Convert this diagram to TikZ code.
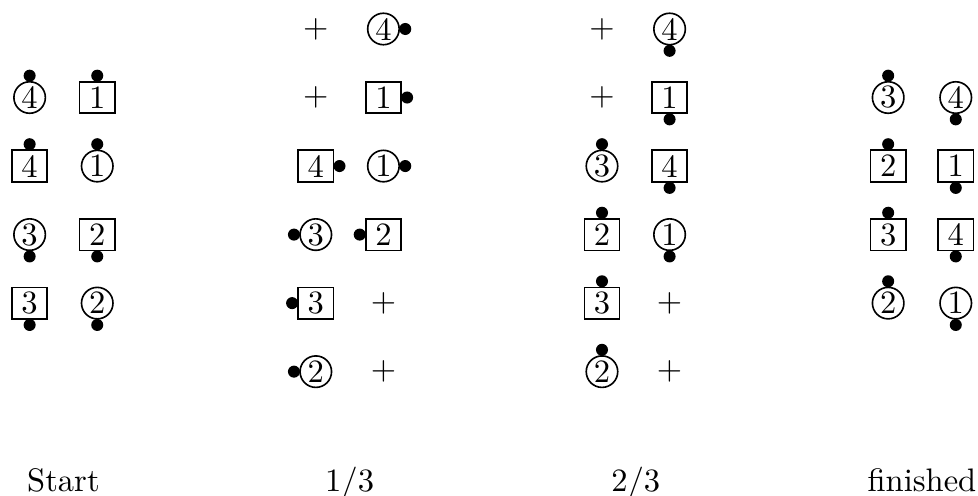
\documentclass[tikz,border=0pt]{standalone}
\usetikzlibrary{positioning}

\begin{document}
\begin{tikzpicture}[
    rnd/.style={draw,circle,line width=0.5pt,inner sep=0.4pt,minimum size=0.34cm},
    sqr/.style={draw,rectangle,line width=0.5pt,inner sep=0.5pt,minimum width=0.38cm,minimum height=0.34cm},
    dot/.style={circle,fill=black,inner sep=0pt,minimum size=0.13cm},
    stage/.style={anchor=base},
]
\useasboundingbox (0,-1.333) rectangle (10.56,4.013);
% Start
\node[rnd] (ac4) at (0.32,2.96) {4};
\node[sqr] (ab1) at (1.05,2.96) {1};
\node[sqr] (ab4) at (0.32,2.22) {4};
\node[rnd] (ac1) at (1.05,2.22) {1};
\node[rnd] (ac3) at (0.32,1.48) {3};
\node[sqr] (ab2) at (1.05,1.48) {2};
\node[sqr] (ab3) at (0.32,0.74) {3};
\node[rnd] (ac2) at (1.05,0.74) {2};
% 1/3
\node (bp1) at (3.41,3.70) {$+$};
\node[rnd] (bc4) at (4.14,3.70) {4};
\node (bp2) at (3.41,2.96) {$+$};
\node[sqr] (bb1) at (4.14,2.96) {1};
\node[sqr] (bb4) at (3.41,2.22) {4};
\node[rnd] (bc1) at (4.14,2.22) {1};
\node[rnd] (bc3) at (3.41,1.48) {3};
\node[sqr] (bb2) at (4.14,1.48) {2};
\node[sqr] (bb3) at (3.41,0.74) {3};
\node (bp3) at (4.14,0.74) {$+$};
\node[rnd] (bc2) at (3.41,0) {2};
\node (bp4) at (4.14,0) {$+$};
% 2/3
\node (cp1) at (6.50,3.70) {$+$};
\node[rnd] (cc4) at (7.23,3.70) {4};
\node (cp2) at (6.50,2.96) {$+$};
\node[sqr] (cb1) at (7.23,2.96) {1};
\node[rnd] (cc3) at (6.50,2.22) {3};
\node[sqr] (cb4) at (7.23,2.22) {4};
\node[sqr] (cb2) at (6.50,1.48) {2};
\node[rnd] (cc1) at (7.23,1.48) {1};
\node[sqr] (cb3) at (6.50,0.74) {3};
\node (cp3) at (7.23,0.74) {$+$};
\node[rnd] (cc2) at (6.50,0) {2};
\node (cp4) at (7.23,0) {$+$};
% finished
\node[rnd] (dc3) at (9.59,2.96) {3};
\node[rnd] (dc4) at (10.32,2.96) {4};
\node[sqr] (db2) at (9.59,2.22) {2};
\node[sqr] (db1) at (10.32,2.22) {1};
\node[sqr] (db3) at (9.59,1.48) {3};
\node[sqr] (db4) at (10.32,1.48) {4};
\node[rnd] (dc2) at (9.59,0.74) {2};
\node[rnd] (dc1) at (10.32,0.74) {1};
% markers
\foreach \n/\s in {ac4/above,ab1/above,ab4/above,ac1/above,ac3/below,ab2/below,ab3/below,ac2/below,
  bc4/right,bb1/right,bb4/right,bc1/right,bc3/left,bb2/left,bb3/left,bc2/left,
  cc4/below,cb1/below,cc3/above,cb4/below,cb2/above,cc1/below,cb3/above,cc2/above,
  dc3/above,dc4/below,db2/above,db1/below,db3/above,db4/below,dc2/above,dc1/below}
  \node[dot,\s=-0.015cm of \n] (\n-d) {};
% stage labels
\node[stage] (lstart) at (0.685,-1.29) {Start};
\node[stage] (lone)   at (3.775,-1.29) {$1/3$};
\node[stage] (ltwo)   at (6.865,-1.29) {$2/3$};
\node[stage] (lfin)   at (9.955,-1.29) {finished};
\end{tikzpicture}
\end{document}
